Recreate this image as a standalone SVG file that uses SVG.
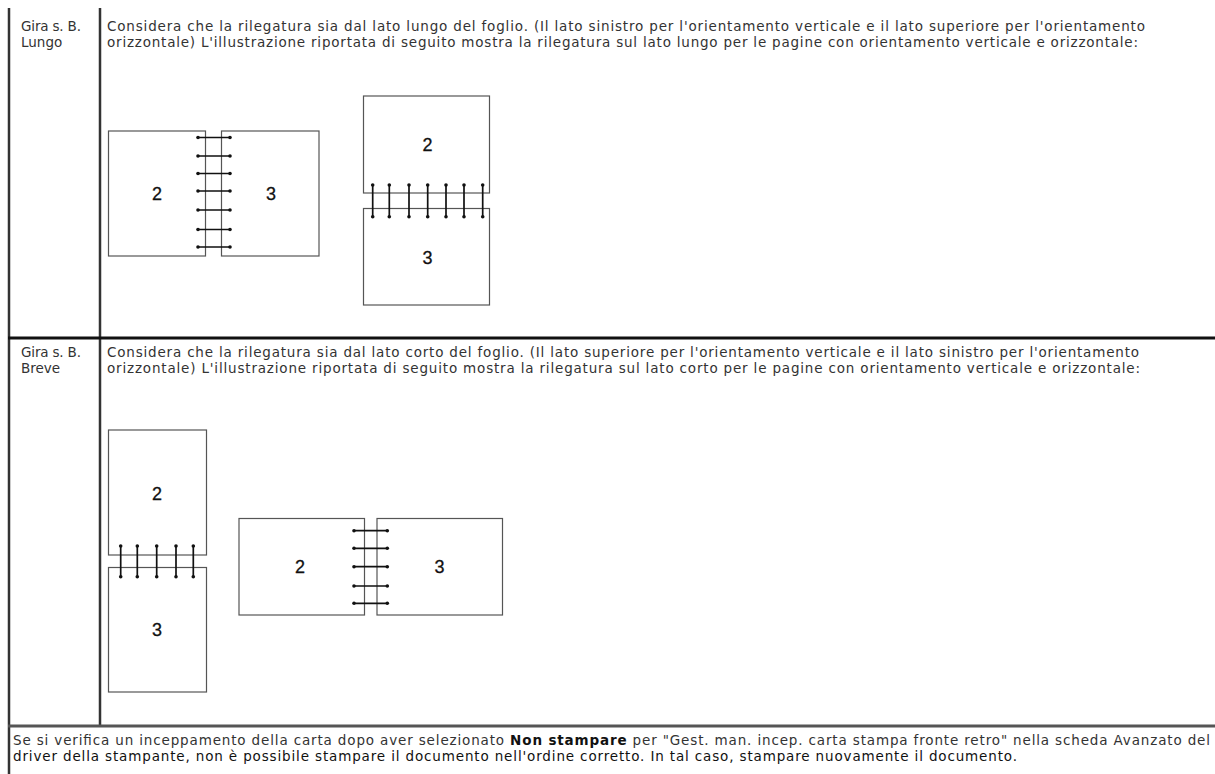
<svg xmlns="http://www.w3.org/2000/svg" width="1215" height="774" viewBox="0 0 1215 774">
<style>
.t{font-family:"DejaVu Sans",Verdana,sans-serif;font-size:13.5px;fill:#333}
.l{font-family:"DejaVu Sans",Verdana,sans-serif;font-size:13.5px;fill:#333}
.t2{font-family:"DejaVu Sans",Verdana,sans-serif;font-size:13.5px;fill:#111}
.b{font-weight:bold;fill:#111}
.pg{fill:#fff;stroke:#555;stroke-width:1.2}
.num{font-family:"Liberation Sans",Arial,sans-serif;font-size:18px;fill:#111;stroke:#111;stroke-width:0.3;text-anchor:middle}
.bind{stroke:#111;stroke-width:1.7;fill:none}
.dot{fill:#111}
.grid{stroke:#333;fill:none}
</style>
<rect width="1215" height="774" fill="#fff"/>
<g id="table-lines" class="grid">
<line x1="9" y1="8" x2="9" y2="774" stroke-width="2.5"/>
<line x1="100" y1="8" x2="100" y2="726" stroke-width="2.5"/>
<line x1="8" y1="338" x2="1215" y2="338" stroke-width="3" stroke="#111"/>
<line x1="8" y1="726" x2="1215" y2="726" stroke-width="3" stroke="#555"/>
</g>
<g id="row1-label">
<text class="l" x="21" y="31" textLength="60" lengthAdjust="spacing">Gira s. B.</text>
<text class="l" x="21" y="47">Lungo</text>
</g>
<g id="row1-text">
<text class="t" x="107" y="31" textLength="1038" lengthAdjust="spacing">Considera che la rilegatura sia dal lato lungo del foglio. (Il lato sinistro per l'orientamento verticale e il lato superiore per l'orientamento</text>
<text class="t" x="107" y="47" textLength="1031" lengthAdjust="spacing">orizzontale) L'illustrazione riportata di seguito mostra la rilegatura sul lato lungo per le pagine con orientamento verticale e orizzontale:</text>
</g>
<g id="fig1">
<rect class="pg" x="108.5" y="131" width="97" height="125"/>
<rect class="pg" x="221.5" y="131" width="97.5" height="125"/>
<text class="num" x="157" y="200">2</text>
<text class="num" x="271" y="200">3</text>
<g class="bind">
<path d="M198 137.5H230M198 156H230M198 173.5H230M198 191H230M198 210H230M198 229.5H230M198 247H230"/>
</g>
<g class="dot">
<circle cx="198" cy="137.5" r="1.8"/><circle cx="230" cy="137.5" r="1.8"/>
<circle cx="198" cy="156" r="1.8"/><circle cx="230" cy="156" r="1.8"/>
<circle cx="198" cy="173.5" r="1.8"/><circle cx="230" cy="173.5" r="1.8"/>
<circle cx="198" cy="191" r="1.8"/><circle cx="230" cy="191" r="1.8"/>
<circle cx="198" cy="210" r="1.8"/><circle cx="230" cy="210" r="1.8"/>
<circle cx="198" cy="229.5" r="1.8"/><circle cx="230" cy="229.5" r="1.8"/>
<circle cx="198" cy="247" r="1.8"/><circle cx="230" cy="247" r="1.8"/>
</g>
</g>
<g id="fig2">
<rect class="pg" x="363.5" y="96" width="126" height="97"/>
<rect class="pg" x="363.5" y="208.5" width="126" height="96.5"/>
<text class="num" x="427.5" y="151">2</text>
<text class="num" x="427.5" y="264">3</text>
<g class="bind">
<path d="M372.7 185V216.7M389.3 185V216.7M409 185V216.7M427.7 185V216.7M446 185V216.7M464 185V216.7M482.7 185V216.7"/>
</g>
<g class="dot">
<circle cx="372.7" cy="185" r="1.8"/><circle cx="372.7" cy="216.7" r="1.8"/>
<circle cx="389.3" cy="185" r="1.8"/><circle cx="389.3" cy="216.7" r="1.8"/>
<circle cx="409" cy="185" r="1.8"/><circle cx="409" cy="216.7" r="1.8"/>
<circle cx="427.7" cy="185" r="1.8"/><circle cx="427.7" cy="216.7" r="1.8"/>
<circle cx="446" cy="185" r="1.8"/><circle cx="446" cy="216.7" r="1.8"/>
<circle cx="464" cy="185" r="1.8"/><circle cx="464" cy="216.7" r="1.8"/>
<circle cx="482.7" cy="185" r="1.8"/><circle cx="482.7" cy="216.7" r="1.8"/>
</g>
</g>
<g id="row2-label">
<text class="l" x="21" y="357" textLength="60" lengthAdjust="spacing">Gira s. B.</text>
<text class="l" x="21" y="373">Breve</text>
</g>
<g id="row2-text">
<text class="t" x="107" y="357" textLength="1032" lengthAdjust="spacing">Considera che la rilegatura sia dal lato corto del foglio. (Il lato superiore per l'orientamento verticale e il lato sinistro per l'orientamento</text>
<text class="t" x="107" y="373" textLength="1033" lengthAdjust="spacing">orizzontale) L'illustrazione riportata di seguito mostra la rilegatura sul lato corto per le pagine con orientamento verticale e orizzontale:</text>
</g>
<g id="fig3">
<rect class="pg" x="108.5" y="430" width="98" height="125"/>
<rect class="pg" x="108.5" y="567.5" width="98" height="124.5"/>
<text class="num" x="157" y="500">2</text>
<text class="num" x="157" y="636">3</text>
<g class="bind">
<path d="M120.7 546V576.7M137.3 546V576.7M156.7 546V576.7M176 546V576.7M193.3 546V576.7"/>
</g>
<g class="dot">
<circle cx="120.7" cy="546" r="1.8"/><circle cx="120.7" cy="576.7" r="1.8"/>
<circle cx="137.3" cy="546" r="1.8"/><circle cx="137.3" cy="576.7" r="1.8"/>
<circle cx="156.7" cy="546" r="1.8"/><circle cx="156.7" cy="576.7" r="1.8"/>
<circle cx="176" cy="546" r="1.8"/><circle cx="176" cy="576.7" r="1.8"/>
<circle cx="193.3" cy="546" r="1.8"/><circle cx="193.3" cy="576.7" r="1.8"/>
</g>
</g>
<g id="fig4">
<rect class="pg" x="239" y="518.5" width="125.5" height="96.5"/>
<rect class="pg" x="377" y="518.5" width="125.5" height="96.5"/>
<text class="num" x="300" y="573">2</text>
<text class="num" x="439.5" y="573">3</text>
<g class="bind">
<path d="M354 530.7H387.3M354 548.3H387.3M354 566.7H387.3M354 586H387.3M354 603.3H387.3"/>
</g>
<g class="dot">
<circle cx="354" cy="530.7" r="1.8"/><circle cx="387.3" cy="530.7" r="1.8"/>
<circle cx="354" cy="548.3" r="1.8"/><circle cx="387.3" cy="548.3" r="1.8"/>
<circle cx="354" cy="566.7" r="1.8"/><circle cx="387.3" cy="566.7" r="1.8"/>
<circle cx="354" cy="586" r="1.8"/><circle cx="387.3" cy="586" r="1.8"/>
<circle cx="354" cy="603.3" r="1.8"/><circle cx="387.3" cy="603.3" r="1.8"/>
</g>
</g>
<g id="note">
<text class="t" x="13" y="745" textLength="1197" lengthAdjust="spacing">Se si verifica un inceppamento della carta dopo aver selezionato <tspan class="b">Non stampare</tspan> per "Gest. man. incep. carta stampa fronte retro" nella scheda Avanzato del</text>
<text class="t2" x="13" y="761" textLength="1004" lengthAdjust="spacing">driver della stampante, non è possibile stampare il documento nell'ordine corretto. In tal caso, stampare nuovamente il documento.</text>
</g>
</svg>
